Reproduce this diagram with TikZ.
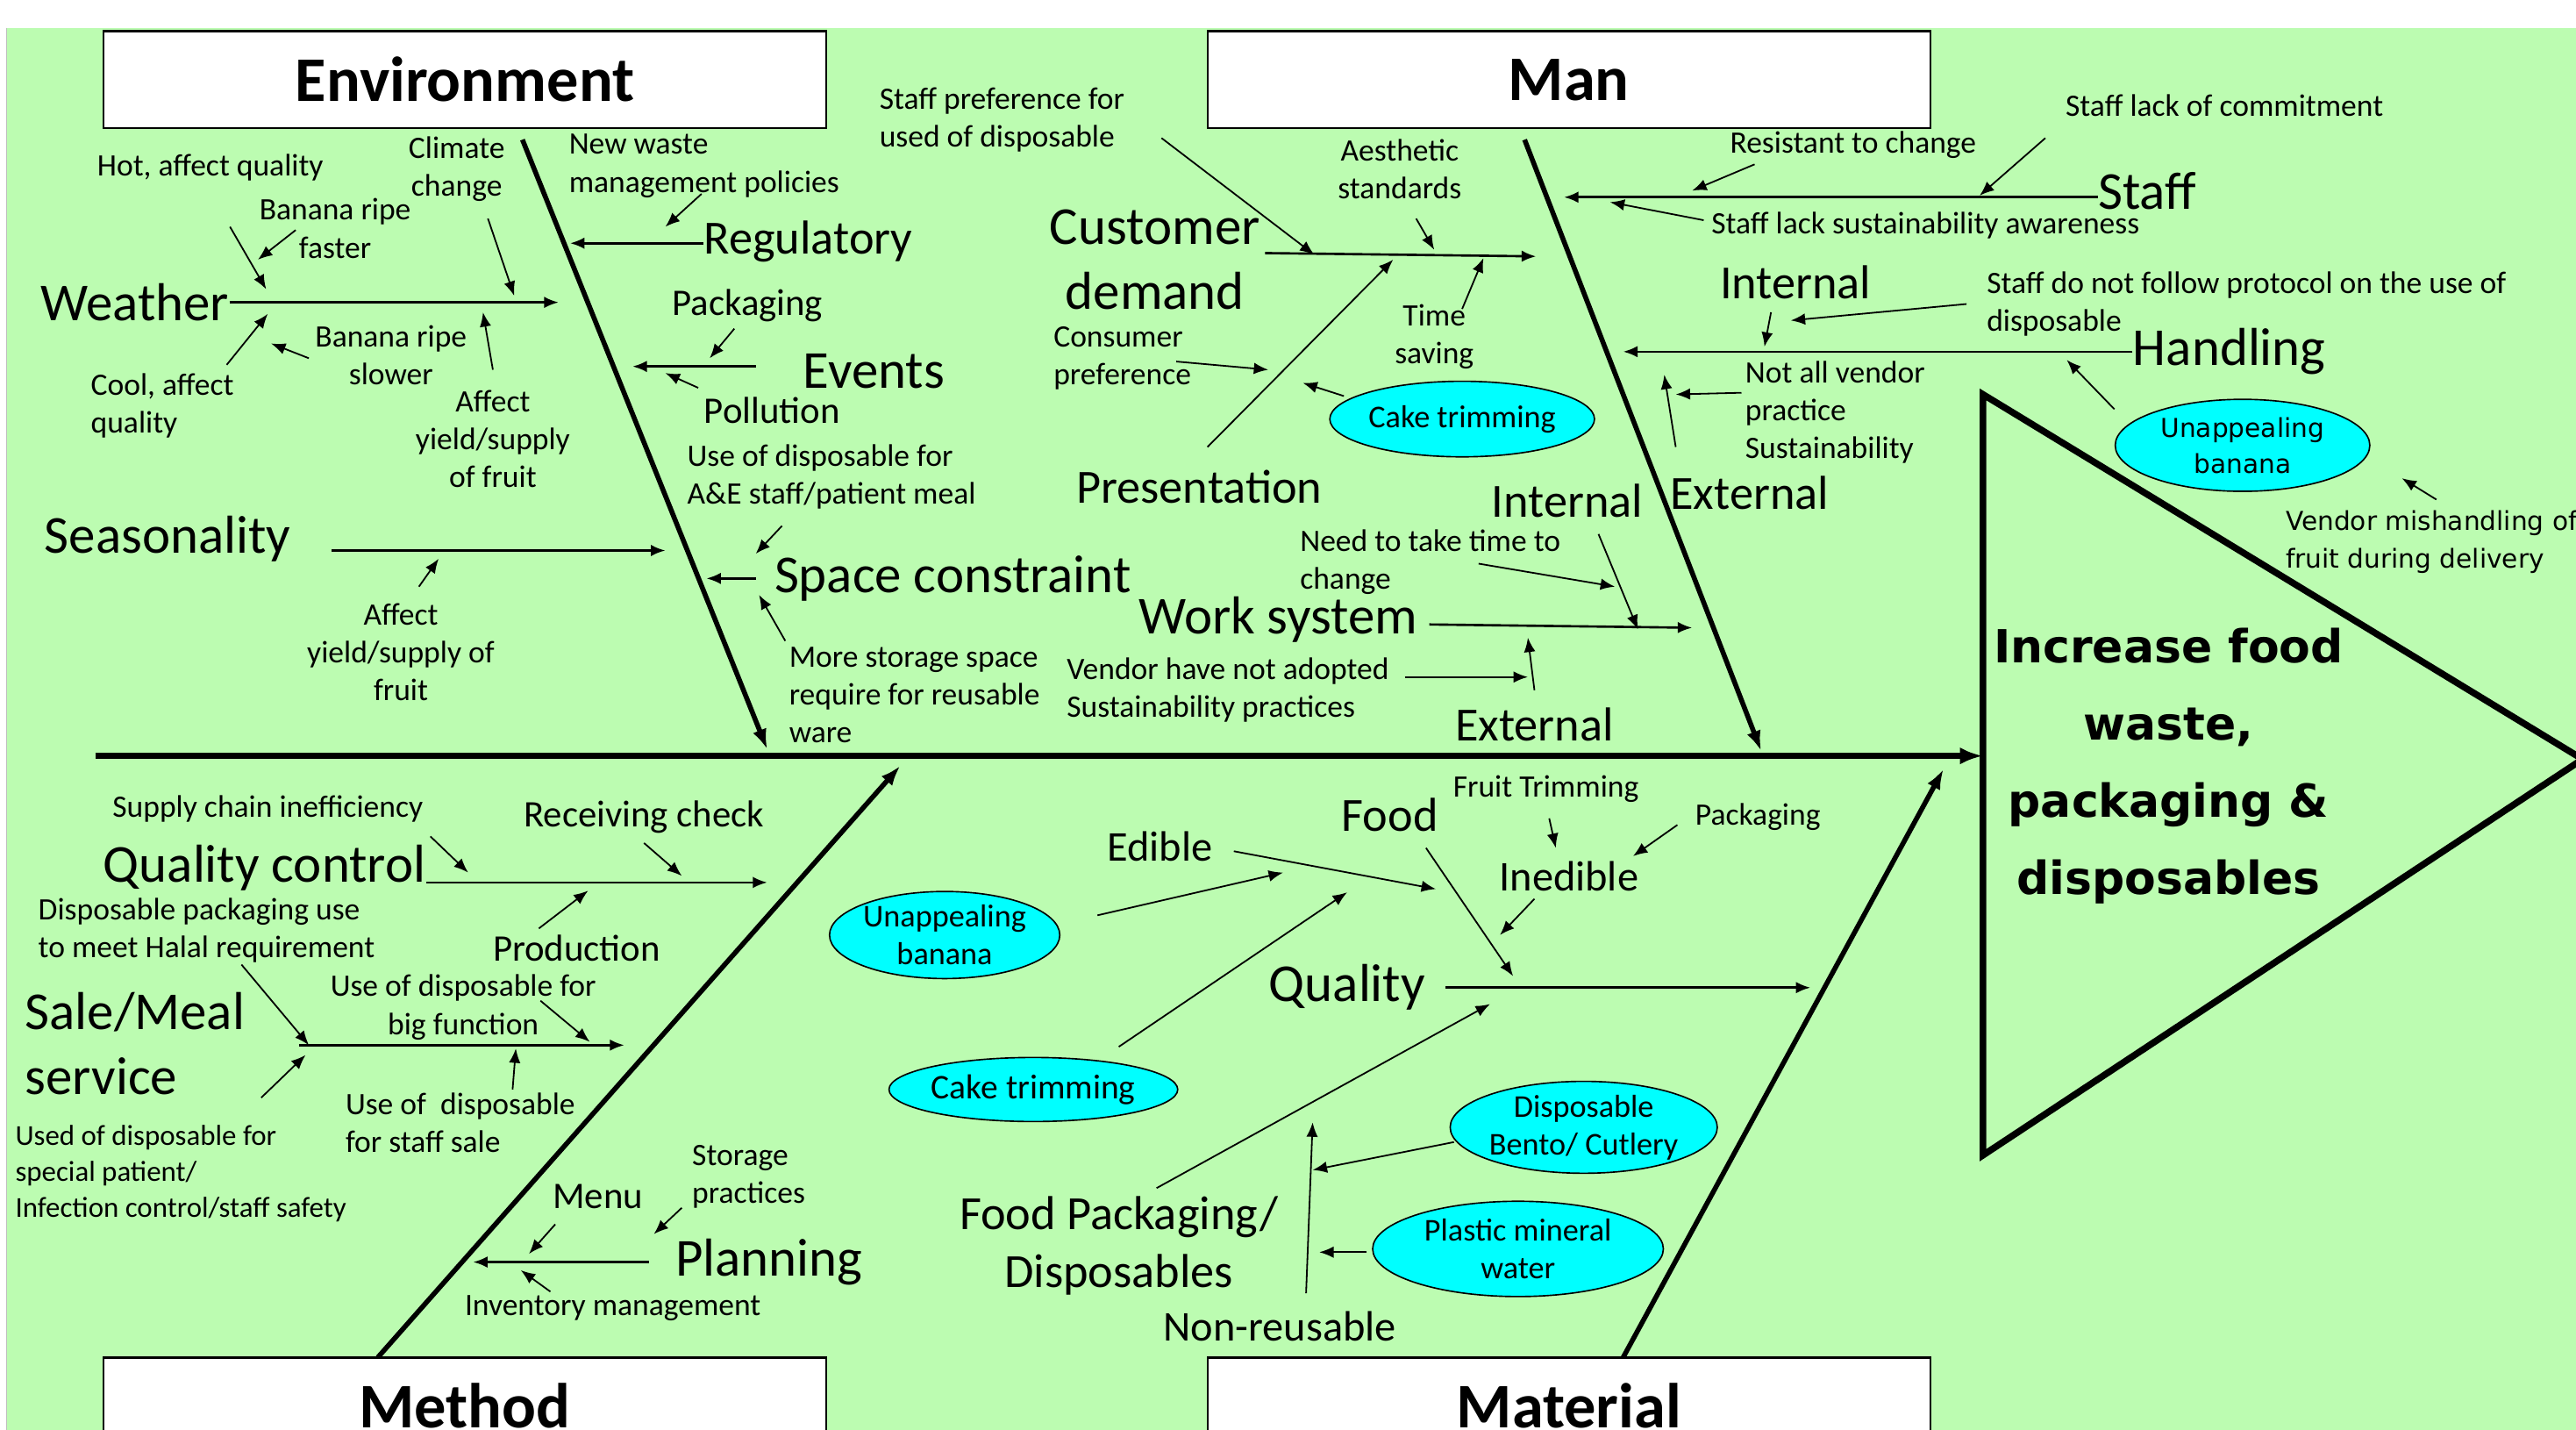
\documentclass[tikz,border=0pt]{standalone}
\usepackage{fontspec}
\setmainfont{Carlito}
\newfontfamily\dejavu{DejaVu Sans}
\usetikzlibrary{arrows.meta,shapes.geometric}
\definecolor{leaf}{RGB}{188,252,177}
\definecolor{aqua}{RGB}{0,255,255}

\begin{document}
\begin{tikzpicture}[x=0.02cm,y=-0.02cm,
    every node/.style={inner sep=0pt},
    headtxt/.style={font=\fontsize{22}{26}\selectfont\bfseries},
    bigtxt/.style={font=\fontsize{18.5}{22.5}\selectfont,align=center},
    medtxt/.style={font=\fontsize{16.5}{20}\selectfont,align=center},
    subtxt/.style={font=\fontsize{14.7}{17}\selectfont},
    smltxt/.style={font=\fontsize{13}{15}\selectfont},
    notetxt/.style={font=\fontsize{10.8}{13.1}\selectfont,align=center},
    tinytxt/.style={font=\fontsize{10}{12.5}\selectfont,align=left},
    catbox/.style={draw,fill=white,line width=0.8pt,minimum width=8.8cm,minimum height=1.18cm,headtxt},
    blob/.style={ellipse,draw,fill=aqua,line width=0.5pt,font=\fontsize{11}{13.1}\selectfont,align=center},
    spine/.style={line width=2.3pt,-{Latex[length=8pt,width=6pt]}},
    bone/.style={line width=1.7pt,-{Latex[length=7pt,width=5pt]}},
    twig/.style={line width=0.8pt,-{Latex[length=5pt,width=4pt]}},
    prong/.style={line width=0.55pt,-{Latex[length=5pt,width=4pt]}}]

  \useasboundingbox (0,0) rectangle (1568,870);
  \fill[white] (0,0) rectangle (1568,870);
  \fill[leaf] (4,17) rectangle (1568,870);
  \draw[black!25,line width=0.6pt] (4,17) -- (4,870);

  % end points of all the arrows
  \foreach \n/\x/\y in {
      envA/318/85, envB/467/456, manA/928/85, manB/1072/457,
      mthA/230/826, mthB/548/466, matA/988/826, matB/1183/468,
      spA/58/460, spB/1207/460, triA/1207/240, triB/1572/462, triC/1207/703,
      wth2/340/184, hot1/140/138, hot2/162/176, fst1/180/140, fst2/157/158,
      clm1/297/133, clm2/313/180, slw1/188/218, slw2/165/209,
      col1/138/222, col2/163/191, afa1/300/225, afa2/294/190,
      reg2/347/148, nww1/427/118, nww2/405/138, pck1/447/200, pck2/432/218,
      evt1/460/223, evt2/385/223, pol1/425/236, pol2/405/227,
      spc1/460/352, spc2/430/352, aae1/476/320, aae2/460/337,
      sto1/478/390, sto2/462/362, sea1/202/335, sea2/405/335,
      afb1/255/357, afb2/267/340,
      cus1/770/154, cus2/935/156, pre1/707/84, pre2/800/155,
      aes1/862/133, aes2/873/152, tim1/890/188, tim2/903/157,
      prs1/735/272, prs2/848/158, con1/716/220, con2/772/225,
      ckA1/818/241, ckA2/793/233, stf2/952/120,
      res1/1068/100, res2/1030/116, com1/1245/84, com2/1205/119,
      law1/1037/134, law2/980/123, hnd2/988/214,
      inA1/1078/190, inA2/1074/211, prt1/1197/185, prt2/1090/195,
      unA1/1287/249, unA2/1258/219, ven1/1483/304, ven2/1462/291,
      exA1/1020/272, exA2/1013/228, nav1/1060/239, nav2/1020/240,
      wrk1/870/380, wrk2/1030/382, inB1/973/325, inB2/997/383,
      ntt1/900/343, ntt2/983/357, vhn1/855/412, vhn2/930/412,
      exB1/934/420, exB2/930/388,
      qcl2/467/537, sup1/262/509, sup2/285/531, rcv1/392/513, rcv2/415/533,
      prd1/328/565, prd2/358/542, sal1/182/636, sal2/380/636,
      hal1/147/587, hal2/188/636, uod1/159/668, uod2/186/642,
      bgf1/329/609, bgf2/359/634, sts1/312/663, sts2/314/638,
      pln1/395/768, pln2/288/768, mnu1/338/745, mnu2/322/763,
      stp1/415/735, stp2/398/751, inv1/335/786, inv2/317/773,
      qty1/880/601, qty2/1102/601, fod1/868/516, fod2/921/594,
      frt1/943/498, frt2/947/516, pkm1/1021/502, pkm2/994/521,
      ine1/934/547, ine2/913/569, edb1/751/518, edb2/874/541,
      unB1/668/557, unB2/781/531, ckB1/681/637, ckB2/820/543,
      fpk1/704/723, fpk2/907/611, nru1/795/787, nru2/799/683,
      bnt1/885/695, bnt2/799/712, pls1/832/762, pls2/803/762}
    \coordinate (\n) at (\x,\y);

  % head and spine
  \draw[line width=2.3pt] (triA) -- (triB) -- (triC) -- cycle;
  \draw[spine] (spA) -- (spB);
  \node[font=\dejavu\bfseries\fontsize{15.8}{26.7}\selectfont,align=center] (effect) at (1320,466)
    {Increase food\\waste,\\packaging \&\\disposables};

  % category boxes and bones
  \node[catbox] (envbox) at (283,48.5) {Environment};
  \node[catbox] (manbox) at (955,48.5) {Man};
  \node[catbox] (methbox) at (283,855.5) {Method};
  \node[catbox] (matbox) at (955,855.5) {Material};
  \draw[bone] (envA) -- (envB);
  \draw[bone] (manA) -- (manB);
  \draw[bone] (mthA) -- (mthB);
  \draw[bone] (matA) -- (matB);

  % environment
  \node[bigtxt] (weather) at (82,184) {Weather};
  \node[notetxt] (hot) at (128,102) {Hot, affect quality};
  \node[notetxt] (faster) at (204,139) {Banana ripe\\faster};
  \node[notetxt] (climate) at (278,103) {Climate\\change};
  \node[notetxt] (slower) at (238,216) {Banana ripe\\slower};
  \node[notetxt,anchor=west,align=left] (cool) at (55,247) {Cool, affect\\quality};
  \node[notetxt] (yield1) at (300,267) {Affect\\yield/supply\\of fruit};
  \node[notetxt,anchor=west,align=left] (waste) at (346,101) {New waste\\management policies};
  \node[medtxt] (regulatory) at (492,147) {Regulatory};
  \node[smltxt] (packing) at (455,186) {Packaging};
  \node[bigtxt] (events) at (532,226) {Events};
  \node[smltxt] (pollution) at (470,250) {Pollution};
  \node[notetxt,anchor=west,align=left] (aande) at (418,290) {Use of disposable for\\A\&E staff/patient meal};
  \node[bigtxt] (space) at (580,352) {Space constraint};
  \node[notetxt,anchor=west,align=left] (storage) at (480,423) {More storage space\\require for reusable\\ware};
  \node[bigtxt] (season) at (102,328) {Seasonality};
  \node[notetxt] (yield2) at (244,397) {Affect\\yield/supply of\\fruit};

  % man
  \node[bigtxt] (customer) at (703,158) {Customer\\demand};
  \node[notetxt,anchor=west,align=left] (staffpref) at (535,73) {Staff preference for\\used of disposable};
  \node[notetxt] (aesthetic) at (852,103) {Aesthetic\\standards};
  \node[notetxt] (timesave) at (873,205) {Time\\saving};
  \node[medtxt] (present) at (730,296) {Presentation};
  \node[notetxt,anchor=west,align=left] (consumer) at (641,218) {Consumer\\preference};
  \node[blob,minimum width=2.72cm,minimum height=0.92cm] (cakeA) at (890,255) {Cake trimming};
  \node[bigtxt] (staff) at (1307,116) {Staff};
  \node[notetxt] (resist) at (1128,88) {Resistant to change};
  \node[notetxt] (commit) at (1354,64) {Staff lack of commitment};
  \node[notetxt] (aware) at (1172,137) {Staff lack sustainability awareness};
  \node[bigtxt] (handling) at (1357,214) {Handling};
  \node[medtxt] (intA) at (1093,172) {Internal};
  \node[notetxt,anchor=west,align=left] (protocol) at (1209,185) {Staff do not follow protocol on the use of\\disposable};
  \node[blob,font=\dejavu\fontsize{9}{12.5}\selectfont,minimum width=3.1cm,minimum height=1.12cm] (unappA) at (1365,271) {Unappealing\\banana};
  \node[anchor=west,align=left,font=\dejavu\fontsize{9}{13.1}\selectfont] (mishandle) at (1391,330) {Vendor mishandling of\\fruit during delivery};
  \node[medtxt] (extA) at (1065,300) {External};
  \node[notetxt,anchor=west,align=left] (notall) at (1062,251) {Not all vendor\\practice\\Sustainability};
  \node[bigtxt] (worksys) at (778,377) {Work system};
  \node[medtxt] (intB) at (954,305) {Internal};
  \node[notetxt,anchor=west,align=left] (needtime) at (791,342) {Need to take time to\\change};
  \node[notetxt,anchor=west,align=left] (vendorhave) at (649,420) {Vendor have not adopted\\Sustainability practices};
  \node[medtxt] (extB) at (934,441) {External};

  % method
  \node[bigtxt] (qc) at (161,528) {Quality control};
  \node[notetxt] (supply) at (163,492) {Supply chain inefficiency};
  \node[smltxt] (receive) at (392,497) {Receiving check};
  \node[smltxt] (produce) at (351,577) {Production};
  \node[notetxt,anchor=west,align=left] (halal) at (23,566) {Disposable packaging use\\to meet Halal requirement};
  \node[bigtxt,anchor=west,align=left] (sale) at (15,635) {Sale/Meal\\service};
  \node[notetxt] (bigfn) at (282,613) {Use of disposable for\\big function};
  \node[notetxt,anchor=west,align=left] (staffsale) at (210,683) {Use of\ \ disposable\\for staff sale};
  \node[tinytxt,anchor=west] (special) at (9,714) {Used of disposable for\\special patient/\\Infection control/staff safety};
  \node[bigtxt] (planning) at (468,768) {Planning};
  \node[smltxt] (menu) at (364,728) {Menu};
  \node[notetxt,anchor=west,align=left] (storep) at (421,716) {Storage\\practices};
  \node[notetxt] (inventory) at (373,796) {Inventory management};

  % material
  \node[bigtxt] (quality) at (820,601) {Quality};
  \node[medtxt] (food) at (846,496) {Food};
  \node[notetxt] (fruittrim) at (941,480) {Fruit Trimming};
  \node[notetxt] (packm) at (1070,497) {Packaging};
  \node[subtxt] (inedible) at (955,533) {Inedible};
  \node[subtxt] (edible) at (706,515) {Edible};
  \node[blob,minimum width=2.76cm,minimum height=1.06cm] (unappB) at (575,569) {Unappealing\\banana};
  \node[blob,font=\fontsize{12}{14}\selectfont,minimum width=3.22cm,minimum height=0.78cm] (cakeB) at (629,663) {Cake trimming};
  \node[medtxt] (foodpack) at (681,758) {Food Packaging/\\Disposables};
  \node[subtxt] (nonreuse) at (779,807) {Non-reusable};
  \node[blob,minimum width=3.22cm,minimum height=1.08cm] (bento) at (964,686) {Disposable\\Bento/ Cutlery};
  \node[blob,minimum width=3.54cm,minimum height=1.16cm] (plastic) at (924,760) {Plastic mineral\\water};

  % branches
  \draw[twig] (weather.east) -- (wth2);
  \draw[twig] (regulatory.west |- reg2) -- (reg2);
  \draw[twig] (staff.west |- stf2) -- (stf2);
  \draw[twig] (handling.west |- hnd2) -- (hnd2);
  \draw[twig] (qc.east |- qcl2) -- (qcl2);
  \foreach \br in {evt,spc,sea,cus,wrk,qty,sal,pln}
    \draw[twig] (\br1) -- (\br2);
  \foreach \br in {hot,fst,clm,slw,col,afa,nww,pck,pol,aae,sto,afb,
      pre,aes,tim,prs,con,ckA,res,com,law,inA,prt,unA,ven,exA,nav,inB,ntt,vhn,exB,
      sup,rcv,prd,hal,uod,bgf,sts,mnu,stp,inv,
      fod,frt,pkm,ine,edb,unB,ckB,fpk,nru,bnt,pls}
    \draw[prong] (\br1) -- (\br2);
\end{tikzpicture}
\end{document}
